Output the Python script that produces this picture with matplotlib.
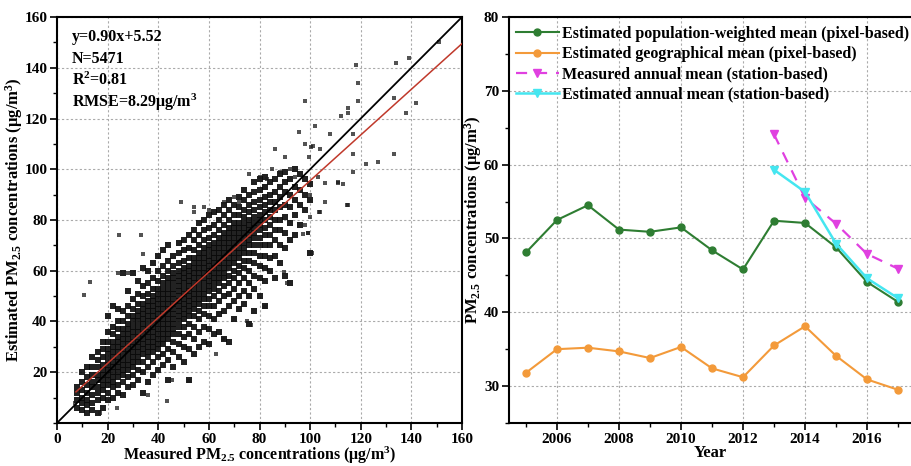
import numpy as np
import matplotlib.pyplot as plt
from matplotlib.ticker import MultipleLocator

plt.rcParams["font.family"] = "Liberation Serif"
plt.rcParams["font.weight"] = "bold"
plt.rcParams["mathtext.fontset"] = "custom"
plt.rcParams["mathtext.rm"] = "Liberation Serif:bold"
plt.rcParams["mathtext.bf"] = "Liberation Serif:bold"
plt.rcParams["mathtext.default"] = "bf"

# ---- left panel: measured vs estimated ----
# dense cloud, stored column by column (measured x -> estimated y values)
core_cols = [8, 10, 12, 14, 16, 18, 20, 22, 24, 26, 28, 30, 32, 34, 36, 38, 40, 42, 44, 46,
             48, 50, 52, 54, 56, 58, 60, 62, 64, 66, 68, 70, 72, 74, 76, 78, 80, 82, 84, 86,
             88, 90, 92, 94, 96, 98, 100]
core_vals = [
    [6, 9, 12, 14],
    [5, 8, 10, 13, 16, 20],
    [4, 7, 9, 12, 15, 18, 22],
    [5, 8, 11, 14, 16, 19, 22, 26],
    [4, 9, 12, 14, 17, 19, 22, 25, 28],
    [6, 10, 13, 15, 17, 19, 21, 23, 26, 29, 32],
    [9, 12, 15, 17, 19, 21, 23, 25, 27, 29, 32, 36, 42],
    [10, 14, 16, 18, 20, 22, 24, 26, 28, 30, 32, 35, 38, 46],
    [12, 15, 18, 20, 22, 24, 26, 28, 30, 32, 34, 37, 40, 45],
    [11, 16, 19, 21, 23, 25, 27, 29, 31, 33, 35, 37, 40, 44, 59],
    [14, 18, 21, 23, 25, 27, 29, 31, 33, 35, 37, 39, 42, 46, 52],
    [15, 19, 22, 24, 26, 28, 30, 32, 34, 36, 38, 40, 42, 45, 49, 59],
    [17, 21, 24, 26, 28, 30, 32, 34, 36, 38, 40, 42, 44, 47, 51, 56],
    [12, 20, 24, 27, 29, 31, 33, 35, 37, 39, 41, 43, 45, 47, 50, 54, 61],
    [16, 22, 26, 28, 30, 32, 34, 36, 38, 40, 42, 44, 46, 48, 51, 55, 60],
    [19, 24, 28, 30, 32, 34, 36, 38, 40, 42, 44, 46, 48, 50, 53, 57, 63],
    [21, 26, 29, 31, 33, 35, 37, 39, 41, 43, 45, 47, 49, 51, 53, 56, 60, 66],
    [23, 27, 31, 33, 35, 37, 39, 41, 43, 45, 47, 49, 51, 53, 55, 58, 62, 68],
    [17, 25, 29, 33, 35, 37, 39, 41, 43, 45, 47, 49, 51, 53, 55, 57, 60, 64, 70],
    [22, 28, 32, 35, 37, 39, 41, 43, 45, 47, 49, 51, 53, 55, 57, 59, 62, 66],
    [26, 31, 35, 38, 40, 42, 44, 46, 48, 50, 52, 54, 56, 58, 60, 63, 67, 71],
    [24, 30, 34, 38, 41, 43, 45, 47, 49, 51, 53, 55, 57, 59, 61, 64, 68, 72],
    [17, 29, 35, 39, 42, 44, 46, 48, 50, 52, 54, 56, 58, 60, 62, 65, 69, 74],
    [27, 33, 38, 42, 45, 47, 49, 51, 53, 55, 57, 59, 61, 63, 65, 68, 72, 76],
    [30, 36, 41, 44, 47, 49, 51, 53, 55, 57, 59, 61, 63, 65, 67, 70, 74, 79],
    [32, 38, 43, 46, 49, 51, 53, 55, 57, 59, 61, 63, 65, 67, 69, 72, 76, 80],
    [31, 37, 42, 46, 49, 52, 54, 56, 58, 60, 62, 64, 66, 68, 70, 73, 77, 82],
    [35, 41, 46, 50, 53, 55, 57, 59, 61, 63, 65, 67, 69, 71, 74, 78, 83],
    [36, 43, 48, 52, 55, 57, 59, 61, 63, 65, 67, 69, 71, 73, 76, 80, 84],
    [33, 44, 50, 54, 57, 59, 61, 63, 65, 67, 69, 71, 73, 75, 78, 82, 86],
    [32, 46, 51, 55, 58, 61, 63, 65, 67, 69, 71, 73, 75, 77, 80, 84, 88],
    [41, 48, 53, 57, 60, 63, 65, 67, 69, 71, 73, 75, 77, 79, 82, 86],
    [45, 50, 55, 59, 62, 65, 67, 69, 71, 73, 75, 77, 79, 82, 85, 89],
    [47, 52, 57, 61, 64, 67, 69, 71, 73, 75, 77, 79, 81, 84, 88, 92],
    [39, 50, 55, 60, 64, 67, 70, 72, 74, 76, 78, 80, 83, 86, 90],
    [44, 53, 58, 63, 67, 70, 73, 75, 77, 79, 81, 84, 87, 91, 95],
    [50, 57, 62, 66, 70, 73, 76, 78, 80, 82, 85, 88, 92, 96],
    [46, 56, 61, 66, 70, 74, 77, 80, 83, 86, 89, 93, 97],
    [60, 65, 70, 74, 78, 81, 84, 87, 90, 95],
    [57, 66, 72, 76, 80, 84, 87, 91, 96],
    [63, 70, 76, 80, 85, 89, 93, 98],
    [58, 69, 75, 81, 86, 91, 95, 99],
    [55, 72, 79, 85, 90, 96],
    [74, 82, 88, 93, 100],
    [78, 86, 92, 98],
    [84, 90, 96],
    [67, 88, 94],
]

# scattered points outside the dense cloud
out_x = [151, 139, 134, 118, 119, 119, 98, 133, 142, 138, 115, 115, 112, 117, 102, 108, 98, 101,
         104, 86, 90, 117, 133, 122, 127, 117, 111, 115, 106, 104, 100,
         24.5, 33, 49, 54, 54, 13, 10.7, 34, 24, 28, 43.5, 45.5, 52, 63, 65.5, 75, 76.5, 82, 91,
         89.5, 100.7, 99, 97, 36, 23.6, 17, 7,
         103, 106, 111, 113, 114.6, 103.6, 100, 99, 98, 95.6, 100.4, 99.6,
         85, 88, 92, 94, 80, 83, 76, 72, 70, 66, 60, 58]
out_y = [150, 144, 142, 141, 134, 127, 127, 128, 126, 122, 124, 122, 121, 114, 117, 114, 110, 109,
         108, 108, 105, 106, 106, 102, 103, 99, 95, 86, 87, 83, 90,
         74, 74, 87, 85, 83, 55.5, 50.5, 66.5, 59, 59, 8.7, 17, 16.5, 27, 33, 40, 38.5, 45.7, 55,
         59.5, 67, 75, 74.5, 11, 6, 4, 8,
         97, 94.5, 94.5, 94, 86, 83, 81, 75, 78, 114.6, 108.7, 104.7,
         100, 99, 100, 97, 97, 96, 98, 87, 89, 87, 84, 85]

fit_slope = 0.90
fit_intercept = 5.52
fit_range = [7.5, 160]
stats_text = ["y=0.90x+5.52", "N=5471", "R$^2$=0.81", "RMSE=8.29μg/m$^3$"]

# ---- right panel: annual means ----
years = list(range(2005, 2018))
pop_weighted = [48.1, 52.5, 54.5, 51.2, 50.9, 51.5, 48.4, 45.8, 52.4, 52.1, 48.8, 44.1, 41.4]
geo_mean = [31.8, 35.0, 35.2, 34.7, 33.8, 35.3, 32.4, 31.2, 35.5, 38.1, 34.1, 30.9, 29.5]
station_years = [2013, 2014, 2015, 2016, 2017]
measured_station = [64.1, 55.5, 52.0, 47.9, 45.9]
estimated_station = [59.3, 56.3, 49.3, 44.6, 41.9]

fig = plt.figure(figsize=(9.12, 4.66), dpi=100)
ax1 = fig.add_axes([0.0625, 0.0923, 0.4441, 0.8712])
ax2 = fig.add_axes([0.558, 0.0923, 0.442, 0.8712])

core_x = [c for c, vals in zip(core_cols, core_vals) for _ in vals]
core_y = [v for vals in core_vals for v in vals]

ax1.scatter(core_x, core_y, s=24, marker="s", color="#0a0a0a", alpha=0.9, linewidths=0, zorder=3)
ax1.scatter(out_x, out_y, s=11, marker="s", color="#1a1a1a", alpha=0.75, linewidths=0, zorder=3)
ax1.plot([0, 160], [0, 160], color="black", lw=1.3, zorder=4)
fx = np.array(fit_range)
ax1.plot(fx, fit_slope * fx + fit_intercept, color="#c0392b", lw=1.1, zorder=5)

ax1.set_xlim(0, 160)
ax1.set_ylim(0, 160)
ax1.xaxis.set_major_locator(MultipleLocator(20))
ax1.xaxis.set_minor_locator(MultipleLocator(10))
ax1.yaxis.set_major_locator(MultipleLocator(20))
ax1.yaxis.set_minor_locator(MultipleLocator(10))
ax1.set_yticks([20, 40, 60, 80, 100, 120, 140, 160])
ax1.grid(True, which="major", ls=(0, (2, 2)), color="#aaaaaa", lw=0.8)
ax1.set_xlabel("Measured PM$_{2.5}$ concentrations (μg/m$^3$)", fontsize=11.5, fontweight="bold")
ax1.set_ylabel("Estimated PM$_{2.5}$ concentrations (μg/m$^3$)", fontsize=12, fontweight="bold")
ax1.xaxis.set_label_coords(0.5, -0.053)
ax1.yaxis.set_label_coords(-0.08, 0.5)
for i, t in enumerate(stats_text):
    ax1.text(0.037, 0.95 - i * 0.053, t, transform=ax1.transAxes, fontsize=11.5,
             fontweight="bold", va="center", ha="left")

ax2.plot(years, pop_weighted, color="#2e7d32", lw=1.5, marker="o", ms=5, label="Estimated population-weighted mean (pixel-based)")
ax2.plot(years, geo_mean, color="#f39a3a", lw=1.5, marker="o", ms=5, label="Estimated geographical mean (pixel-based)")
ax2.plot(station_years, measured_station, color="#e040e0", lw=1.6, ls=(0, (5, 4)), marker="v", ms=6, label="Measured annual mean (station-based)")
ax2.plot(station_years, estimated_station, color="#45e6f0", lw=1.8, marker="v", ms=6, label="Estimated annual mean (station-based)")

ax2.set_xlim(2004.45, 2017.45)
ax2.set_ylim(25, 80)
ax2.xaxis.set_major_locator(MultipleLocator(2))
ax2.xaxis.set_minor_locator(MultipleLocator(1))
ax2.yaxis.set_major_locator(MultipleLocator(10))
ax2.yaxis.set_minor_locator(MultipleLocator(5))
ax2.set_yticks([30, 40, 50, 60, 70, 80])
ax2.set_xticks([2006, 2008, 2010, 2012, 2014, 2016])
ax2.grid(True, which="major", ls=(0, (2, 2)), color="#aaaaaa", lw=0.8)
ax2.spines["right"].set_visible(False)
ax2.set_xlabel("Year", fontsize=12, fontweight="bold")
ax2.set_ylabel("PM$_{2.5}$ concentrations (μg/m$^3$)", fontsize=12, fontweight="bold")
ax2.xaxis.set_label_coords(0.5, -0.055)
ax2.yaxis.set_label_coords(-0.062, 0.5)
ax2.legend(loc="upper left", bbox_to_anchor=(0.005, 0.99), frameon=False, fontsize=11.5,
           handlelength=2.7, handletextpad=0.2, borderaxespad=0.0, labelspacing=0.27, borderpad=0.3)

for ax in (ax1, ax2):
    for sp in ax.spines.values():
        sp.set_linewidth(1.5)
    ax.tick_params(which="major", direction="out", length=5, width=1.2, labelsize=11, pad=2)
    ax.tick_params(which="minor", direction="out", length=3, width=1.0)
    for lab in ax.get_xticklabels() + ax.get_yticklabels():
        lab.set_fontweight("bold")

fig.savefig("out.png", dpi=100)
